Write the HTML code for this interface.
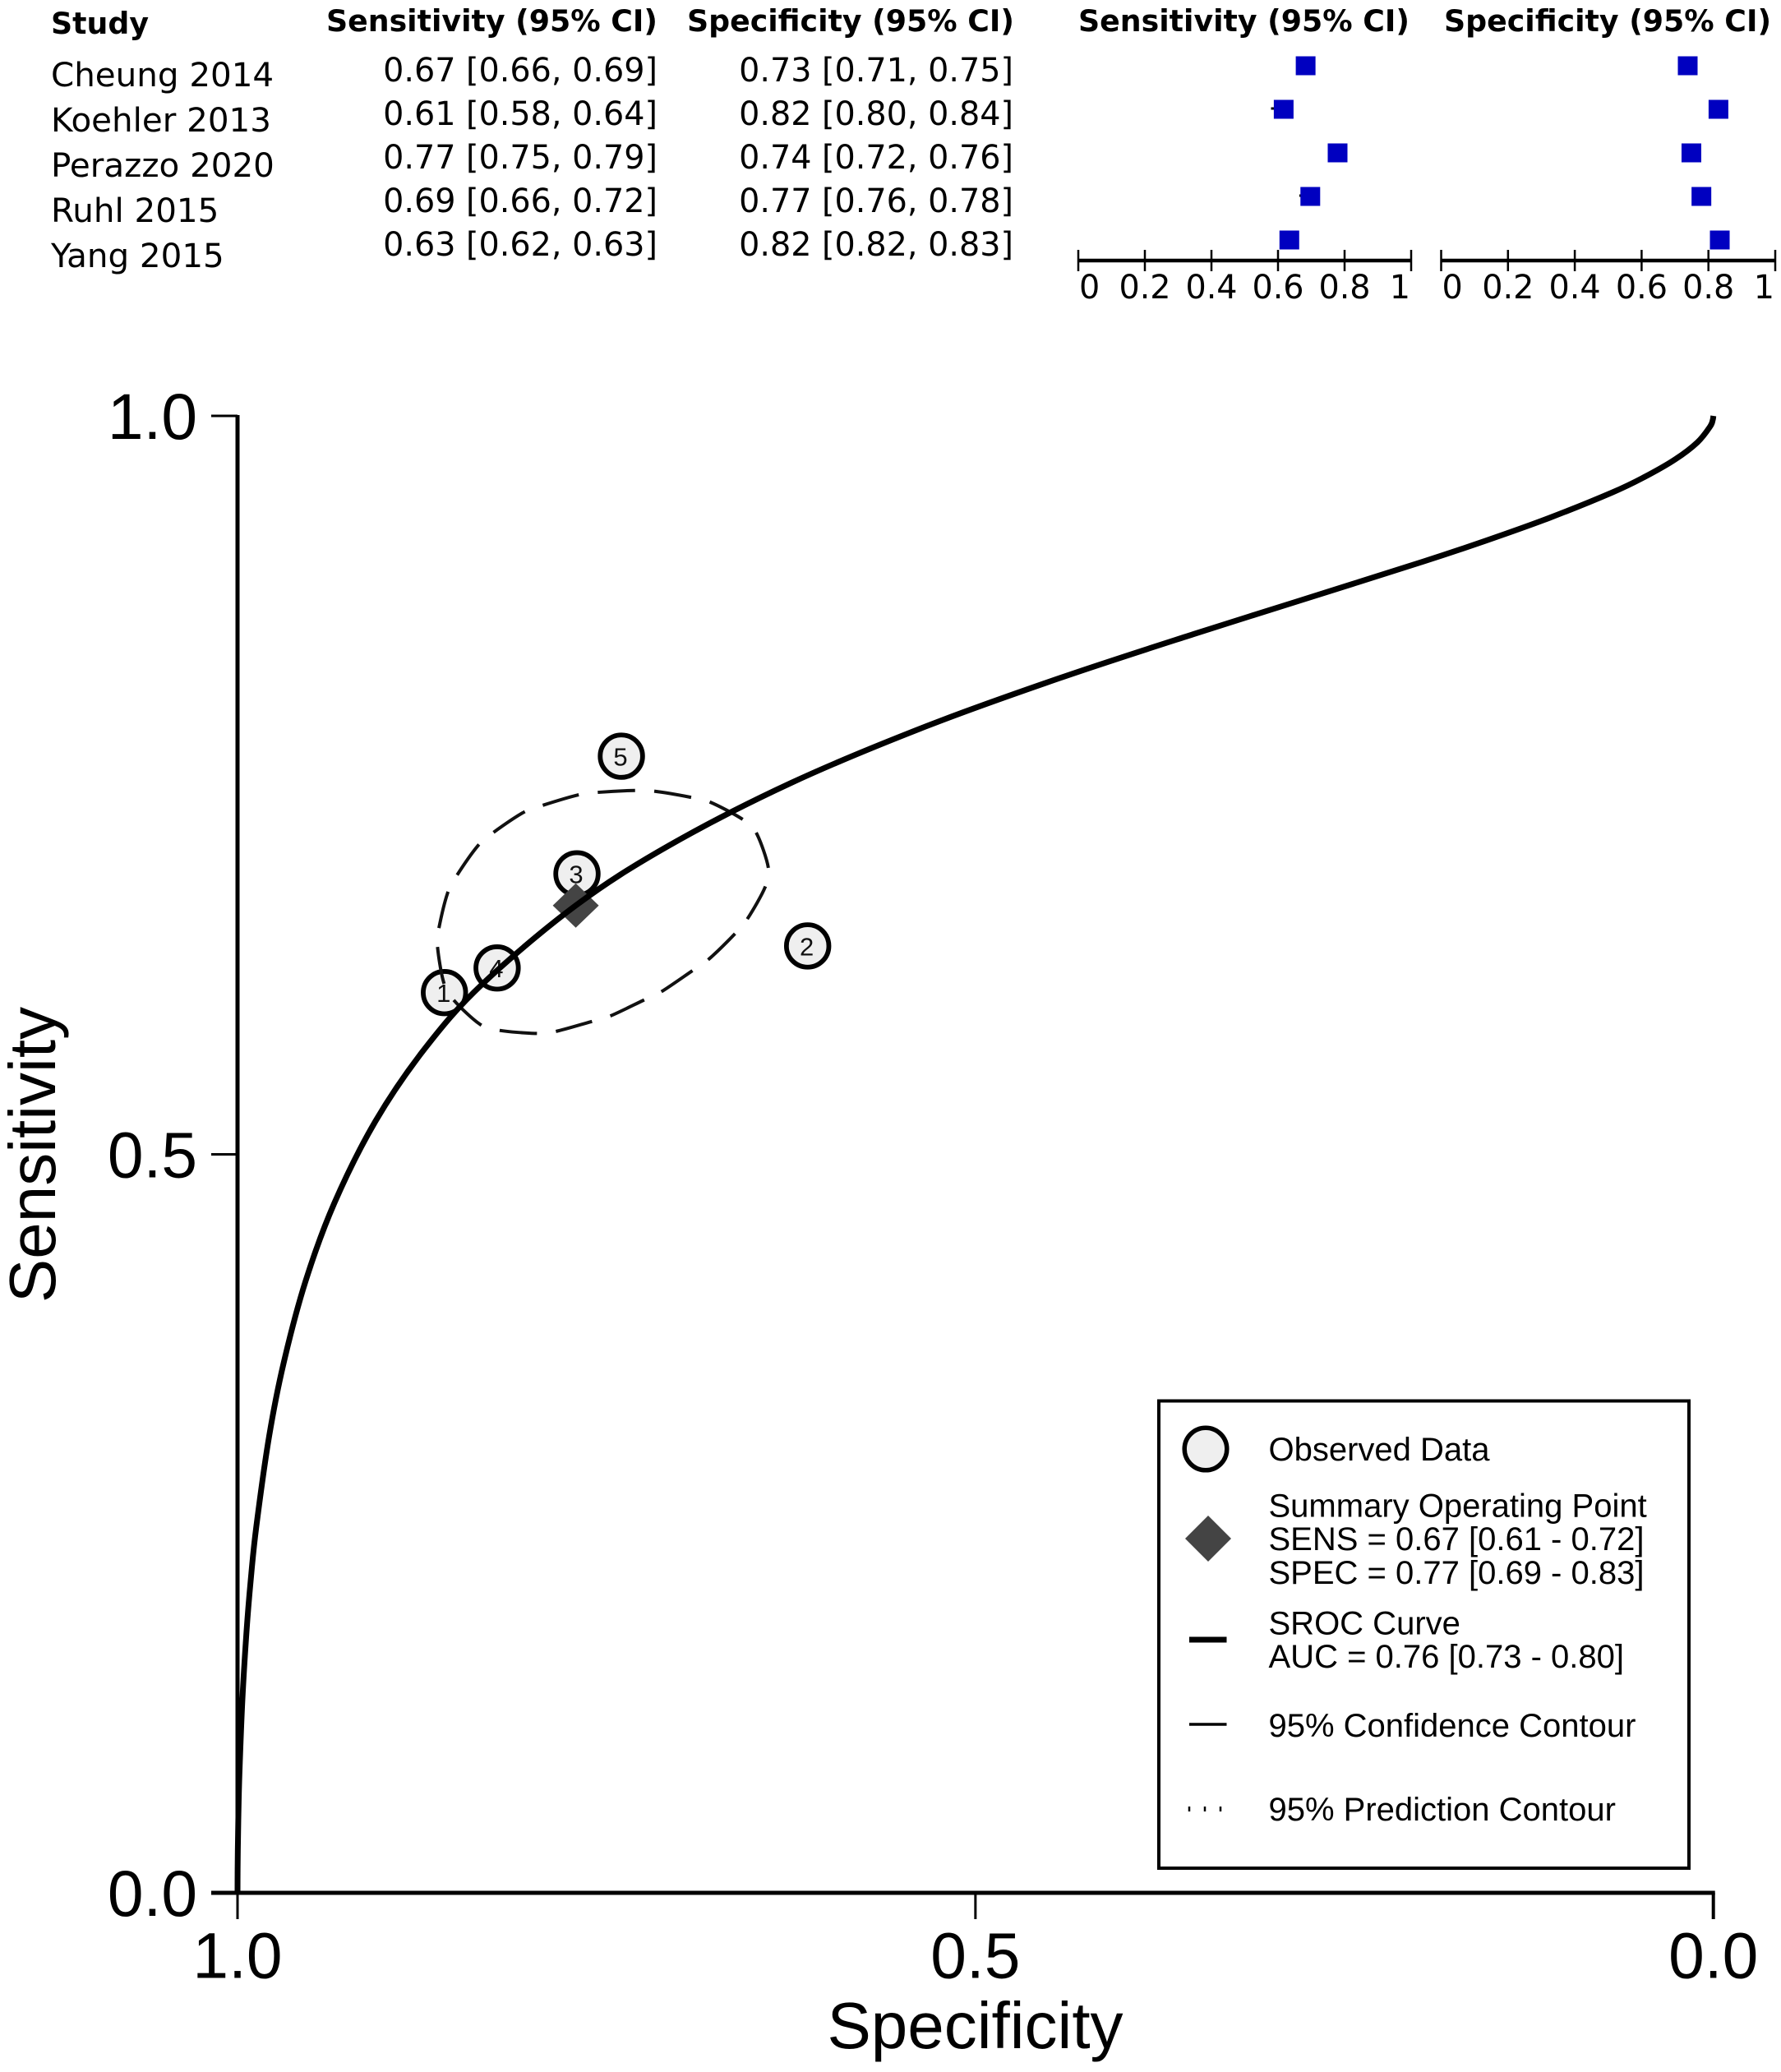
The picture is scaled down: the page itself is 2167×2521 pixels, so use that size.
<!DOCTYPE html>
<html lang="en">
<head>
<meta charset="utf-8">
<title>SROC chart with forest plots</title>
<style>
html,body{margin:0;padding:0;background:#fff;}
svg{display:block;}
.dj{font-family:"DejaVu Sans",sans-serif;font-size:39.7px;fill:#000;}
.djn{font-family:"DejaVu Sans",sans-serif;font-size:40.4px;fill:#000;}
.djb{font-family:"DejaVu Sans",sans-serif;font-size:36.3px;font-weight:bold;fill:#000;}
.lg{font-family:"Liberation Sans",Arial,sans-serif;font-size:40px;fill:#000;}
.big{font-family:"Liberation Sans",Arial,sans-serif;font-size:80px;fill:#000;}
.tick{font-family:"Liberation Sans",Arial,sans-serif;font-size:78.5px;fill:#000;}
</style>
</head>
<body>
<svg id="chart" xmlns="http://www.w3.org/2000/svg" width="2167" height="2521" viewBox="0 0 2167 2521">
<rect x="0" y="0" width="2167" height="2521" fill="#fff"/>

<g>
<text class="djb" x="62" y="41">Study</text>
<text class="djb" x="800" y="38" text-anchor="end">Sensitivity (95% CI)</text>
<text class="djb" x="1234" y="38" text-anchor="end">Specificity (95% CI)</text>
<text class="djn" x="62" y="105">Cheung 2014</text>
<text class="djn" x="62" y="160">Koehler 2013</text>
<text class="djn" x="62" y="215">Perazzo 2020</text>
<text class="djn" x="62" y="270">Ruhl 2015</text>
<text class="djn" x="62" y="325">Yang 2015</text>
<text class="dj" x="800" y="99" text-anchor="end">0.67 [0.66, 0.69]</text>
<text class="dj" x="800" y="152" text-anchor="end">0.61 [0.58, 0.64]</text>
<text class="dj" x="800" y="205" text-anchor="end">0.77 [0.75, 0.79]</text>
<text class="dj" x="800" y="258" text-anchor="end">0.69 [0.66, 0.72]</text>
<text class="dj" x="800" y="311" text-anchor="end">0.63 [0.62, 0.63]</text>
<text class="dj" x="1233" y="99" text-anchor="end">0.73 [0.71, 0.75]</text>
<text class="dj" x="1233" y="152" text-anchor="end">0.82 [0.80, 0.84]</text>
<text class="dj" x="1233" y="205" text-anchor="end">0.74 [0.72, 0.76]</text>
<text class="dj" x="1233" y="258" text-anchor="end">0.77 [0.76, 0.78]</text>
<text class="dj" x="1233" y="311" text-anchor="end">0.82 [0.82, 0.83]</text>
<text class="djb" x="1312" y="38">Sensitivity (95% CI)</text>
<text class="djb" x="1757" y="38">Specificity (95% CI)</text>
</g>

<g id="forest-sens"></g>
<g id="forest-spec"></g>
<g id="main-axes"></g>
<g id="main-marks"></g>

<text class="big" x="1186.5" y="2492" text-anchor="middle">Specificity</text>
<text class="big" x="67" y="1405" text-anchor="middle" transform="rotate(-90 67 1405)">Sensitivity</text>

<g>
<rect x="1410" y="1704.5" width="645" height="568.5" fill="#fff" stroke="#000" stroke-width="4"/>
<circle cx="1467" cy="1763" r="25.8" fill="#efefef" stroke="#000" stroke-width="5.5"/>
<text class="lg" x="1543.5" y="1777">Observed Data</text>
<polygon points="1470,1844 1498,1872 1470,1900 1442,1872" fill="#444"/>
<text class="lg" x="1543.5" y="1845.5">Summary Operating Point</text>
<text class="lg" x="1543.5" y="1886">SENS = 0.67 [0.61 - 0.72]</text>
<text class="lg" x="1543.5" y="1927">SPEC = 0.77 [0.69 - 0.83]</text>
<line x1="1447" y1="1995" x2="1492.5" y2="1995" stroke="#000" stroke-width="7"/>
<text class="lg" x="1543.5" y="1988.5">SROC Curve</text>
<text class="lg" x="1543.5" y="2029">AUC = 0.76 [0.73 - 0.80]</text>
<line x1="1447" y1="2098" x2="1492.5" y2="2098" stroke="#000" stroke-width="3.5"/>
<text class="lg" x="1543.5" y="2113">95% Confidence Contour</text>
<g stroke="#000" stroke-width="2.5">
<line x1="1447" y1="2198" x2="1447" y2="2204"/>
<line x1="1466" y1="2198" x2="1466" y2="2204"/>
<line x1="1485" y1="2198" x2="1485" y2="2204"/>
</g>
<text class="lg" x="1543.5" y="2215">95% Prediction Contour</text>
</g>
</svg>

<script>
/* Forest plot values */
const forestTicks = [0, 0.2, 0.4, 0.6, 0.8, 1];
const forestTickLabels = ['0', '0.2', '0.4', '0.6', '0.8', '1'];
const sensPoint = [0.683, 0.617, 0.779, 0.697, 0.634];
const sensLow = [0.67, 0.579, 0.76, 0.664, 0.628];
const sensHigh = [0.70, 0.64, 0.80, 0.725, 0.64];
const specPoint = [0.738, 0.830, 0.749, 0.779, 0.834];
const specLow = [0.72, 0.81, 0.73, 0.77, 0.83];
const specHigh = [0.76, 0.85, 0.77, 0.79, 0.84];

/* Main plot values */
const axisTicks = [1, 0.5, 0];
const axisTickLabels = ['1.0', '0.5', '0.0'];
const studyIds = ['1', '2', '3', '4', '5'];
const studySpec = [0.8598, 0.6137, 0.7700, 0.8241, 0.7399];
const studySens = [0.6095, 0.6411, 0.6899, 0.6262, 0.7696];
const summarySpec = [0.7708];
const summarySens = [0.6685];
const curveFpr = [0,0.00005,0.0002,0.0006,0.0013,0.0033,0.0061,0.0089,0.0127,0.0214,0.0312,0.0461,0.0656,0.0935,0.127,0.166,0.2292,0.2922,0.3751,0.4663,0.5572,0.6483,0.7181,0.8035,0.8461,0.8888,0.9314,0.9529,0.9742,0.9892,0.9978,0.9996,1];
const curveSens = [0,0.0132,0.0289,0.0532,0.0807,0.1308,0.1769,0.2112,0.2477,0.3090,0.3585,0.4141,0.4670,0.5225,0.5717,0.6154,0.6685,0.7090,0.7515,0.7897,0.8225,0.8524,0.8744,0.9014,0.9156,0.9309,0.9481,0.9584,0.9706,0.9821,0.9928,0.9973,1];
const contourSpec = [0.7559,0.7308,0.7178,0.6931,0.6800,0.6577,0.6485,0.6403,0.6425,0.6546,0.6633,0.6815,0.6923,0.7135,0.7252,0.7481,0.7609,0.7853,0.7987,0.8234,0.8362,0.8544,0.8606,0.8646,0.8637,0.8578,0.8516,0.8371,0.8275,0.8061,0.7936,0.7695];
const contourSens = [0.7451,0.7464,0.7459,0.7418,0.7386,0.7268,0.7177,0.6939,0.6809,0.6593,0.6490,0.6314,0.6240,0.6097,0.6042,0.5934,0.5897,0.5830,0.5819,0.5841,0.5884,0.6055,0.6175,0.6416,0.6524,0.6765,0.6885,0.7090,0.7173,0.7316,0.7362,0.7433];

const NS = 'http://www.w3.org/2000/svg';
function make(parent, tag, attrs, text) {
  const node = document.createElementNS(NS, tag);
  for (const k in attrs) node.setAttribute(k, attrs[k]);
  if (text !== undefined) node.textContent = text;
  parent.appendChild(node);
  return node;
}

/* Axis functions */
const X0 = 289, X1 = 2084.7, Y0 = 2303, Y1 = 506;
function xSpec(spec) { return X0 + (1 - spec) * (X1 - X0); }
function ySens(sens) { return Y0 - sens * (Y0 - Y1); }
const ROW_Y0 = 80, ROW_STEP = 53, FOREST_AXIS_Y = 317;
function rowY(i) { return ROW_Y0 + i * ROW_STEP; }

function smoothPath(pts, closed) {
  const n = pts.length;
  const at = i => closed ? pts[(i + n) % n] : pts[Math.max(0, Math.min(n - 1, i))];
  let d = 'M' + pts[0][0].toFixed(2) + ' ' + pts[0][1].toFixed(2);
  const segs = closed ? n : n - 1;
  for (let i = 0; i < segs; i++) {
    const p0 = at(i - 1), p1 = at(i), p2 = at(i + 1), p3 = at(i + 2);
    const c1x = p1[0] + (p2[0] - p0[0]) / 6, c1y = p1[1] + (p2[1] - p0[1]) / 6;
    const c2x = p2[0] - (p3[0] - p1[0]) / 6, c2y = p2[1] - (p3[1] - p1[1]) / 6;
    d += 'C' + c1x.toFixed(2) + ' ' + c1y.toFixed(2) + ' ' + c2x.toFixed(2) + ' ' + c2y.toFixed(2) + ' ' + p2[0].toFixed(2) + ' ' + p2[1].toFixed(2);
  }
  return d + (closed ? 'Z' : '');
}

/* Forest plots */
function drawForest(group, left, right, point, low, high) {
  const fx = v => left + v * (right - left);
  const axis = make(group, 'line', {x1: fx(0) - 1, y1: FOREST_AXIS_Y, x2: fx(1) + 1, y2: FOREST_AXIS_Y, stroke: '#000', 'stroke-width': 4.5});
  
  
  forestTicks.forEach((t, i) => {
    const tick = make(group, 'line', {x1: fx(t), y1: 304, x2: fx(t), y2: 330, stroke: '#000', 'stroke-width': 2.5});
    
    
    const anchor = i === 0 ? 'start' : (i === forestTicks.length - 1 ? 'end' : 'middle');
    const dx = i === 0 ? 1 : (i === forestTicks.length - 1 ? -1 : 0);
    const label = make(group, 'text', {x: fx(t) + dx, y: 363, 'text-anchor': anchor, 'class': 'dj'}, forestTickLabels[i]);
    
    
  });
  point.forEach((v, i) => {
    const y = rowY(i);
    const whisker = make(group, 'line', {x1: fx(low[i]), y1: y - 1, x2: fx(high[i]), y2: y - 1, stroke: '#000', 'stroke-width': 3});
    
    
    const square = make(group, 'rect', {x: fx(v) - 12, y: y - 11.5, width: 24, height: 23, fill: '#0000c0'});
    
    
  });
}
drawForest(document.getElementById('forest-sens'), 1312, 1717, sensPoint, sensLow, sensHigh);
drawForest(document.getElementById('forest-spec'), 1753.5, 2160, specPoint, specLow, specHigh);

/* Main axes */
const axes = document.getElementById('main-axes');
const yAxis = make(axes, 'line', {x1: X0, y1: Y1 - 1, x2: X0, y2: Y0, stroke: '#000', 'stroke-width': 5});


const xAxis = make(axes, 'line', {x1: X0, y1: Y0, x2: X1 + 2, y2: Y0, stroke: '#000', 'stroke-width': 5});


axisTicks.forEach((t, i) => {
  const yt = make(axes, 'line', {x1: 257, y1: ySens(t), x2: X0, y2: ySens(t), stroke: '#000', 'stroke-width': t === 0 ? 5 : 3});
  
  
  const yl = make(axes, 'text', {x: 240, y: ySens(t) + 28, 'text-anchor': 'end', 'class': 'tick'}, axisTickLabels[i]);
  
  
  const xt = make(axes, 'line', {x1: xSpec(t), y1: Y0, x2: xSpec(t), y2: 2335, stroke: '#000', 'stroke-width': t === 0 ? 4 : 3});
  
  
  const xl = make(axes, 'text', {x: xSpec(t), y: 2406.5, 'text-anchor': 'middle', 'class': 'tick'}, axisTickLabels[i]);
  
  
});

/* Main marks: circles, diamond, contour, curve */
const marks = document.getElementById('main-marks');
studyIds.forEach((id, i) => {
  const cx = xSpec(studySpec[i]), cy = ySens(studySens[i]);
  const circle = make(marks, 'circle', {cx: cx, cy: cy, r: 25.8, fill: '#efefef', stroke: '#000', 'stroke-width': 5.8});
  
  
  const label = make(marks, 'text', {x: cx - 1, y: cy + 11.5, 'text-anchor': 'middle', 'font-family': '"Liberation Sans",Arial,sans-serif', 'font-size': 31, fill: '#111'}, id);
  
  
});
const sx = xSpec(summarySpec[0]), sy = ySens(summarySens[0]);
const diamond = make(marks, 'polygon', {points: [[sx, sy - 27], [sx + 28, sy], [sx, sy + 27], [sx - 28, sy]].map(p => p.join(',')).join(' '), fill: '#444'});



const contourPts = contourSpec.map((s, i) => [xSpec(s), ySens(contourSens[i])]);
const contour = make(marks, 'path', {d: smoothPath(contourPts, true), fill: 'none', stroke: '#111', 'stroke-width': 4, pathLength: 16, 'stroke-dasharray': '0.66 0.34'});



const curvePts = curveFpr.map((f, i) => [xSpec(1 - f), ySens(curveSens[i])]);
const curve = make(marks, 'path', {d: smoothPath(curvePts, false), fill: 'none', stroke: '#000', 'stroke-width': 7});


</script>
</body>
</html>
